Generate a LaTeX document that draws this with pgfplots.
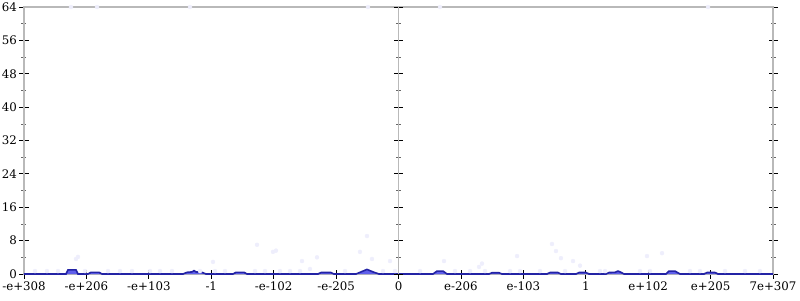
\documentclass[border=0pt]{standalone}
\usepackage{pgfplots}
\pgfplotsset{compat=1.18}
\usepackage{fontspec}
\setmainfont{DejaVu Serif}
\definecolor{axgray}{RGB}{185,185,185}
\definecolor{lineblue}{RGB}{35,35,165}
\definecolor{fillblue}{RGB}{95,95,235}
\definecolor{dotc}{RGB}{238,238,252}
\pgfplotsset{
  commonax/.style={
    at={(0,0)}, anchor=south west, scale only axis, width=749pt, height=267pt,
    ymin=0, ymax=64, clip=false,
    ytick={0,8,...,64}, minor ytick={4,12,...,60},
    tick align=center, major tick length=9pt, minor tick length=5pt,
    major tick style={black, line width=0.8pt},
    minor tick style={black!60, line width=0.6pt},
    tick label style={font=\fontsize{11.8}{14}\selectfont},
    /pgf/number format/assume math mode=true,
  }
}
\begin{document}
\begin{tikzpicture}[x=1pt,y=1pt]
\useasboundingbox (-24,-26) rectangle (776,274);
\begin{axis}[commonax,
  xmin=0, xmax=12,
  axis line style={axgray, line width=1.5pt},
  xtick={0,...,12},
  xticklabels={-e+308,-e+206,-e+103,-1,-e-102,-e-205,0,e-206,e-103,1,e+102,e+205,7e+307},
  xtick pos=bottom, ytick pos=both, yticklabel pos=left,
  yticklabel style={xshift=1pt},
]
\addplot[only marks, mark=*, mark size=2pt, color=dotc] coordinates {
(0.176,0.7)(0.368,0.7)(0.545,0.7)(0.977,0.7)(1.346,0.7)(1.538,0.7)(1.730,0.7)
(2.019,0.7)(2.179,0.7)(2.371,0.7)(2.820,0.7)(3.060,0.7)(3.220,0.7)(3.701,0.7)
(3.861,0.7)(4.101,0.7)(4.262,0.7)(4.422,0.7)(5.143,0.7)(5.752,0.7)(5.944,0.7)
(6.345,0.7)(6.905,0.7)(7.146,0.7)(7.386,0.7)(7.787,0.7)(7.947,0.7)(8.267,0.7)
(8.668,0.7)(9.228,0.7)(9.309,0.7)(9.869,0.7)(10.029,0.7)(10.670,0.7)(10.830,0.7)
(11.231,0.7)(11.551,0.7)(11.791,0.7)
(0.865,4.1)(0.833,3.6)(3.028,2.9)(3.733,7.0)(5.495,9.1)(3.989,5.3)(4.037,5.6)
(5.383,5.3)(4.454,3.1)(4.694,4.0)(5.575,3.6)(5.864,3.1)(6.729,3.1)(7.290,1.7)
(7.899,4.3)(4.582,1.2)(8.459,7.2)(8.523,5.5)(8.603,3.8)(8.796,3.1)(9.981,4.3)
(10.222,5.0)(7.338,2.5)(8.908,2.0)
(0.753,64)(1.170,64)(2.660,64)(5.511,64)(6.665,64)(10.959,64)
};
\addplot[draw=lineblue, line width=1.6pt, fill=fillblue] coordinates {
(0,0)(0.673,0)(0.705,1.0)(0.833,1.0)(0.865,0)
(1.025,0)(1.073,0.4)(1.202,0.4)(1.250,0)
(2.547,0)(2.611,0.4)(2.692,0.5)(2.724,0.8)(2.756,0.5)(2.852,0.4)(2.916,0)
(3.348,0)(3.396,0.4)(3.525,0.4)(3.573,0)
(4.710,0)(4.758,0.35)(4.918,0.35)(4.966,0)
(5.319,0)(5.383,0.4)(5.447,0.8)(5.495,1.1)(5.543,0.8)(5.608,0.4)(5.688,0)
(6.553,0)(6.617,0.7)(6.713,0.7)(6.777,0)
(7.450,0)(7.498,0.3)(7.610,0.3)(7.658,0)
(8.379,0)(8.427,0.35)(8.555,0.35)(8.603,0)
(8.844,0)(8.892,0.35)(9.004,0.35)(9.052,0)
(9.324,0)(9.373,0.35)(9.469,0.4)(9.517,0.7)(9.565,0.4)(9.613,0)
(10.286,0)(10.334,0.7)(10.430,0.7)(10.510,0)
(10.894,0)(10.943,0.35)(11.071,0.35)(11.119,0)
(12,0)
};
\end{axis}
\begin{axis}[commonax,
  xmin=-1, xmax=1,
  axis x line=none, axis y line=center,
  y axis line style={-, axgray, line width=1.5pt},
  yticklabels={},
]
\end{axis}
\end{tikzpicture}
\end{document}
